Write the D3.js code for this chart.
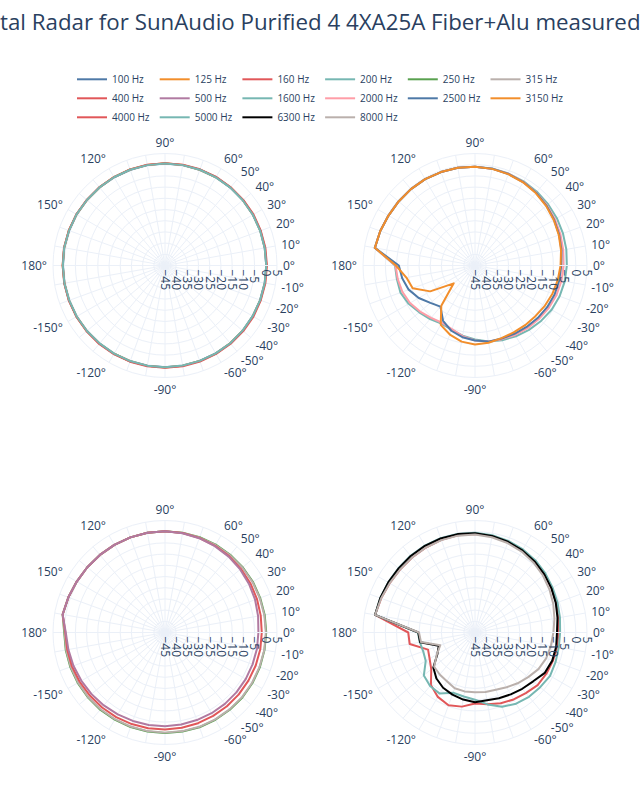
<!DOCTYPE html>
<html><head><meta charset="utf-8">
<script src="https://cdn.jsdelivr.net/npm/d3@7"></script>
<style>
body{margin:0;background:#fff;}
svg{display:block;font-family:"Open Sans",verdana,arial,sans-serif;}
</style>
</head><body>
<svg id="chart" width="640" height="800"></svg>
<script>
// ---------------- DATA ----------------
const titleText = "Horizontal Radar for SunAudio Purified 4 4XA25A Fiber+Alu measured by ASR";
// measurement angles (degrees)
const angles = [0,10,20,30,40,50,60,70,80,90,100,110,120,130,140,150,160,170,180,
                -170,-160,-150,-140,-130,-120,-110,-100,-90,-80,-70,-60,-50,-40,-30,-20,-10];
const radialTicks = [-45,-40,-35,-30,-25,-20,-15,-10,-5,0,5];
const angularTicks = [0,10,20,30,40,50,60,90,120,150,180,-150,-120,-90,-60,-50,-40,-30,-20,-10];
const frequencies = ["100 Hz","125 Hz","160 Hz","200 Hz","250 Hz","315 Hz","400 Hz","500 Hz",
                     "1600 Hz","2000 Hz","2500 Hz","3150 Hz","4000 Hz","5000 Hz","6300 Hz","8000 Hz"];
const colors = ["#4e79a7","#f28e2b","#e15759","#76b7b2","#59a14f","#bab0ac","#e15759","#b07aa1",
                "#76b7b2","#ff9da7","#4e79a7","#f28e2b","#e15759","#76b7b2","#000000","#bab0ac"];

// subplot 1
const f100 = [0.2,0.2,0.3,0.3,0.4,0.4,0.5,0.5,0.5,0.5,0.5,0.5,0.5,0.5,0.5,0.6,0.6,0.7,0.6,0.6,0.6,0.6,0.5,0.5,0.5,0.5,0.4,0.4,0.4,0.3,0.3,0.3,0.3,0.2,0.2,0.2];
const f125 = [0.3,0.3,0.3,0.4,0.4,0.5,0.5,0.5,0.6,0.6,0.6,0.6,0.6,0.5,0.5,0.6,0.7,0.7,0.7,0.6,0.6,0.6,0.6,0.5,0.5,0.5,0.5,0.5,0.4,0.4,0.4,0.3,0.3,0.3,0.3,0.3];
const f160 = [0.5,0.5,0.5,0.6,0.6,0.6,0.7,0.7,0.7,0.7,0.7,0.6,0.6,0.6,0.6,0.7,0.7,0.8,0.7,0.7,0.7,0.7,0.7,0.7,0.7,0.7,0.7,0.7,0.7,0.6,0.6,0.6,0.6,0.6,0.5,0.5];
const f200 = [0.2,0.2,0.2,0.3,0.3,0.4,0.4,0.5,0.5,0.5,0.5,0.5,0.5,0.5,0.5,0.6,0.6,0.7,0.6,0.6,0.5,0.5,0.5,0.4,0.4,0.4,0.4,0.4,0.3,0.3,0.3,0.3,0.2,0.2,0.2,0.2];
// subplot 2
const f1600 = [-4.0,-3.6,-3.2,-2.8,-2.4,-2.0,-1.6,-1.3,-1.0,-0.9,-0.7,-0.6,-0.5,-0.5,-0.5,-0.4,0.0,0.4,-9.3,-9.6,-9.6,-10.8,-12.5,-13.8,-15.0,-14.5,-13.2,-12.0,-10.5,-9.5,-8.5,-7.5,-6.5,-5.5,-4.8,-4.3];
const f2000 = [-5.5,-5.0,-4.4,-3.8,-3.1,-2.5,-1.9,-1.4,-1.1,-0.9,-0.7,-0.6,-0.5,-0.5,-0.5,-0.4,0.0,0.4,-9.5,-10.0,-10.5,-11.5,-13.0,-14.5,-15.5,-14.8,-13.0,-11.5,-10.5,-10.0,-9.2,-8.5,-7.8,-7.0,-6.3,-5.8];
const f2500 = [-6.5,-5.8,-5.0,-4.2,-3.4,-2.6,-2.0,-1.5,-1.1,-0.9,-0.7,-0.6,-0.5,-0.5,-0.5,-0.4,0.0,0.4,-11.0,-12.0,-13.5,-16.0,-19.0,-21.0,-16.5,-14.0,-12.5,-11.5,-10.5,-10.3,-9.8,-9.2,-8.5,-7.8,-7.2,-6.8];
const f3150 = [-6.8,-6.0,-5.2,-4.4,-3.6,-2.8,-2.1,-1.6,-1.2,-0.9,-0.7,-0.6,-0.5,-0.5,-0.5,-0.4,0.0,0.4,-9.7,-13.9,-15.4,-21.9,-32.6,-21.6,-14.4,-12.2,-10.5,-9.7,-10.0,-10.5,-10.5,-10.2,-9.8,-9.0,-8.2,-7.5];
// subplot 3
const f250 = [0.2,0.2,0.2,0.3,0.3,0.3,0.3,0.3,0.2,0.2,0.2,0.2,0.2,0.2,0.3,0.5,0.9,1.4,0.0,0.0,0.0,0.0,0.0,0.0,-0.1,-0.1,-0.1,-0.1,-0.1,0.0,0.0,0.0,0.1,0.1,0.1,0.1];
const f315 = [0.0,0.0,0.0,0.1,0.1,0.1,0.1,0.1,0.1,0.2,0.2,0.2,0.2,0.2,0.3,0.5,0.9,1.4,-0.2,-0.2,-0.2,-0.2,-0.2,-0.3,-0.3,-0.3,-0.3,-0.3,-0.3,-0.2,-0.2,-0.2,-0.1,-0.1,-0.1,0.0];
const f400 = [-1.8,-1.6,-1.3,-1.0,-0.8,-0.5,-0.3,-0.1,0.1,0.2,0.2,0.2,0.2,0.2,0.3,0.5,0.9,1.4,-0.5,-0.7,-0.8,-1.0,-1.2,-1.3,-1.4,-1.5,-1.6,-1.7,-1.8,-1.9,-2.0,-2.0,-2.0,-2.0,-1.9,-1.8];
const f500 = [-3.3,-2.8,-2.2,-1.7,-1.2,-0.8,-0.5,-0.2,0.0,0.2,0.2,0.2,0.2,0.2,0.3,0.5,0.9,1.4,-0.7,-1.2,-1.5,-1.9,-2.2,-2.5,-2.8,-3.0,-3.1,-3.2,-3.3,-3.4,-3.4,-3.4,-3.4,-3.4,-3.4,-3.3];
// subplot 4
const f4000 = [-7.7,-7.2,-6.4,-5.5,-4.6,-3.6,-2.8,-2.0,-1.4,-1.0,-0.9,-1.0,-1.2,-1.3,-1.3,-1.0,-0.4,0.3,-15.2,-15.4,-22.7,-21.6,-19.5,-14.4,-11.8,-10.4,-11.4,-13.3,-12.5,-11.4,-10.5,-9.7,-8.5,-8.2,-8.0,-7.8];
const f5000 = [-7.0,-6.5,-5.8,-5.0,-4.0,-3.0,-2.2,-1.5,-0.9,-0.5,-0.3,-0.2,-0.2,-0.3,-0.4,-0.3,0.0,0.3,-19.5,-20.0,-20.4,-19.6,-15.2,-13.8,-13.5,-16.4,-16.0,-15.0,-12.4,-9.7,-8.3,-7.5,-7.0,-6.3,-6.7,-7.0];
const f6300 = [-8.4,-7.6,-6.6,-5.6,-4.6,-3.6,-2.7,-1.9,-1.2,-0.7,-0.4,-0.3,-0.3,-0.4,-0.5,-0.3,0.0,0.3,-19.7,-20.1,-27.8,-25.6,-20.7,-18.2,-16.5,-15.5,-14.6,-13.9,-14.3,-13.8,-13.1,-12.2,-11.1,-9.0,-8.3,-8.2];
const f8000 = [-10.0,-9.0,-7.8,-6.6,-5.4,-4.3,-3.3,-2.5,-1.8,-1.3,-1.1,-1.1,-1.2,-1.3,-1.3,-1.0,-0.4,0.3,-20.0,-20.5,-28.5,-25.3,-21.2,-20.5,-19.9,-18.5,-18.3,-18.3,-18.0,-17.8,-16.8,-15.4,-14.0,-12.3,-11.2,-10.6];

const seriesValues = [f100,f125,f160,f200,f250,f315,f400,f500,f1600,f2000,f2500,f3150,f4000,f5000,f6300,f8000];
const subplotSeries = [[0,1,2,3],[8,9,10,11],[4,5,6,7],[12,13,14,15]];

// ---------------- LAYOUT ----------------
const svg = d3.select("#chart");
const textColor = "#2a3f5f", gridColor = "#EBF0F8";
const R = 112;
const centers = [[165,265.5],[475,265.5],[165,632.5],[475,632.5]];
const rScale = d3.scaleLinear().domain([-45,5]).range([0,R]);
const toRad = d => (90 - d) * Math.PI / 180; // d3 radial angle (0 = up, clockwise)

// title (wider than the page, clipped on both sides as in the reference)
const titleSize = "22.3px";
const title = svg.append("text").attr("y", 30).attr("fill", textColor)
  .style("font-size", titleSize).text(titleText);
const tmp = svg.append("text").style("font-size", titleSize).text("Horizon");
const prefixW = tmp.node().getComputedTextLength(); tmp.remove();
title.attr("x", -prefixW);

// legend
frequencies.forEach((f,i)=>{
  const col = i % 6, row = Math.floor(i/6);
  const g = svg.append("g").attr("transform",`translate(${77 + col*82.7},${79.3 + row*19})`);
  g.append("line").attr("x1",0).attr("x2",30).attr("y1",0).attr("y2",0)
    .attr("stroke",colors[i]).attr("stroke-width",2);
  g.append("text").attr("x",35).attr("y",0).attr("dy","0.35em").attr("fill",textColor)
    .style("font-size","10px").text(f);
});

// polar subplots
const line = d3.lineRadial().angle(d=>toRad(d.a)).radius(d=>rScale(d.v)).curve(d3.curveLinearClosed);
const gridAngles = d3.range(0,360,10);

centers.forEach(([cx,cy],si)=>{
  const g = svg.append("g").attr("transform",`translate(${cx},${cy})`);
  // radial grid circles
  radialTicks.filter(t=>t>-45).forEach(t=>{
    g.append("circle").attr("r",rScale(t)).attr("fill","none").attr("stroke",gridColor).attr("stroke-width",1);
  });
  // angular grid spokes
  gridAngles.forEach(a=>{
    const th = a*Math.PI/180;
    g.append("line").attr("x1",0).attr("y1",0).attr("x2",R*Math.cos(th)).attr("y2",-R*Math.sin(th))
      .attr("stroke",gridColor).attr("stroke-width",1);
  });
  // traces
  subplotSeries[si].forEach(k=>{
    const pts = angles.map((a,j)=>({a:a, v:seriesValues[k][j]}));
    g.append("path").attr("d",line(pts)).attr("fill","none").attr("stroke",colors[k])
      .attr("stroke-width",2).attr("stroke-linejoin","round");
  });
  // radial axis line (above traces)
  g.append("line").attr("x1",0).attr("y1",0).attr("x2",R).attr("y2",0).attr("stroke",gridColor).attr("stroke-width",1);
  // radial tick labels
  radialTicks.forEach(t=>{
    g.append("text").attr("transform",`translate(${rScale(t)},4) rotate(90)`)
      .attr("dy","0.35em").attr("text-anchor","start").attr("fill",textColor)
      .style("font-size","12px").text(String(t).replace("-","\u2212"));
  });
  // angular tick labels
  angularTicks.forEach(a=>{
    const th = a*Math.PI/180, c = Math.cos(th), s = Math.sin(th), rr = R + 6;
    const anchor = c > 0.1 ? "start" : (c < -0.1 ? "end" : "middle");
    g.append("text").attr("x", rr*c).attr("y", -rr*s)
      .attr("dy", (0.4 - 0.45*s).toFixed(3) + "em")
      .attr("text-anchor", anchor).attr("fill", textColor)
      .style("font-size","12px").text(a + "\u00B0");
  });
});
</script>
</body></html>
